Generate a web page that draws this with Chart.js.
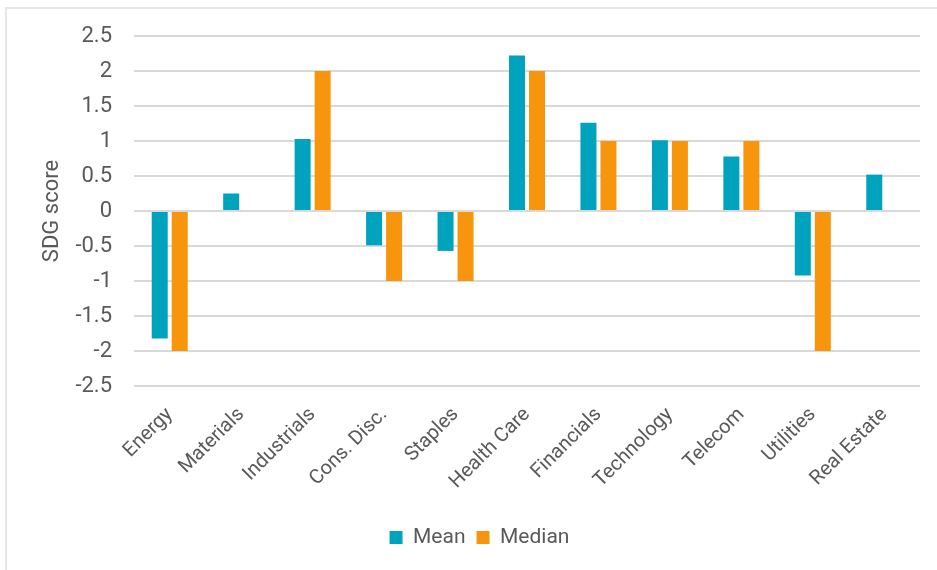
<!DOCTYPE html>
<html>
<head>
<meta charset="utf-8">
<script src="https://cdn.jsdelivr.net/npm/chart.js@4/dist/chart.umd.min.js"></script>
<style>
    html, body { margin: 0; padding: 0; background: #fff; }
    #wrap { position: relative; width: 937px; height: 570px; }
    #frame {
        position: absolute; left: 5px; top: 7px; right: 0; bottom: 0;
        border-top: 2px solid #e6e6e6; border-left: 2px solid #e6e6e6;
        pointer-events: none;
    }
</style>
</head>
<body>
<div id="wrap">
    <canvas id="sdgChart" width="937" height="570"></canvas>
    <div id="frame"></div>
</div>
<script>
const sectors = ["Energy", "Materials", "Industrials", "Cons. Disc.", "Staples", "Health Care",
    "Financials", "Technology", "Telecom", "Utilities", "Real Estate"];
const meanScores = [-1.82, 0.25, 1.03, -0.49, -0.57, 2.22, 1.26, 1.01, 0.78, -0.92, 0.52];
const medianScores = [-2, null, 2, -1, -1, 2, 1, 1, 1, -2, null];
const yTicks = [2.5, 2, 1.5, 1, 0.5, 0, -0.5, -1, -1.5, -2, -2.5];

const textColor = "#595959";
const font = "Roboto, 'Liberation Sans', sans-serif";

new Chart(document.getElementById("sdgChart"), {
    type: 'bar',
    data: {
        labels: sectors,
        datasets: [{
            label: "Mean",
            data: meanScores,
            backgroundColor: "#00A3BE",
            categoryPercentage: 0.56,
            barPercentage: 0.8
        }, {
            label: "Median",
            data: medianScores,
            backgroundColor: "#F7960D",
            categoryPercentage: 0.56,
            barPercentage: 0.8
        }]
    },
    options: {
        responsive: false,
        animation: false,
        layout: {
            padding: { left: 39, right: 17, top: 36, bottom: 12 }
        },
        plugins: {
            title: { display: false },
            tooltip: { enabled: false },
            legend: {
                position: 'bottom',
                labels: {
                    color: textColor,
                    font: { family: font, size: 21 },
                    boxWidth: 13,
                    boxHeight: 13,
                    padding: 11
                }
            }
        },
        scales: {
            x: {
                grid: { display: false },
                border: { display: false },
                ticks: {
                    color: textColor,
                    font: { family: font, size: 20 },
                    minRotation: 45,
                    maxRotation: 45,
                    padding: 9
                },
                afterFit: scale => { scale.height = 130; }
            },
            y: {
                min: -2.5,
                max: 2.5,
                afterBuildTicks: scale => {
                    scale.ticks = yTicks.map(v => ({ value: v }));
                },
                grid: {
                    color: "#d9d9d9",
                    lineWidth: 2,
                    drawTicks: false
                },
                border: { display: false },
                ticks: {
                    color: textColor,
                    font: { family: font, size: 22 },
                    padding: 22,
                    callback: v => String(v)
                },
                title: {
                    display: true,
                    text: "SDG score",
                    color: textColor,
                    font: { family: font, size: 22 },
                    padding: 0
                },
                afterFit: scale => { scale.width = 95; }
            }
        }
    }
});
</script>
</body>
</html>
